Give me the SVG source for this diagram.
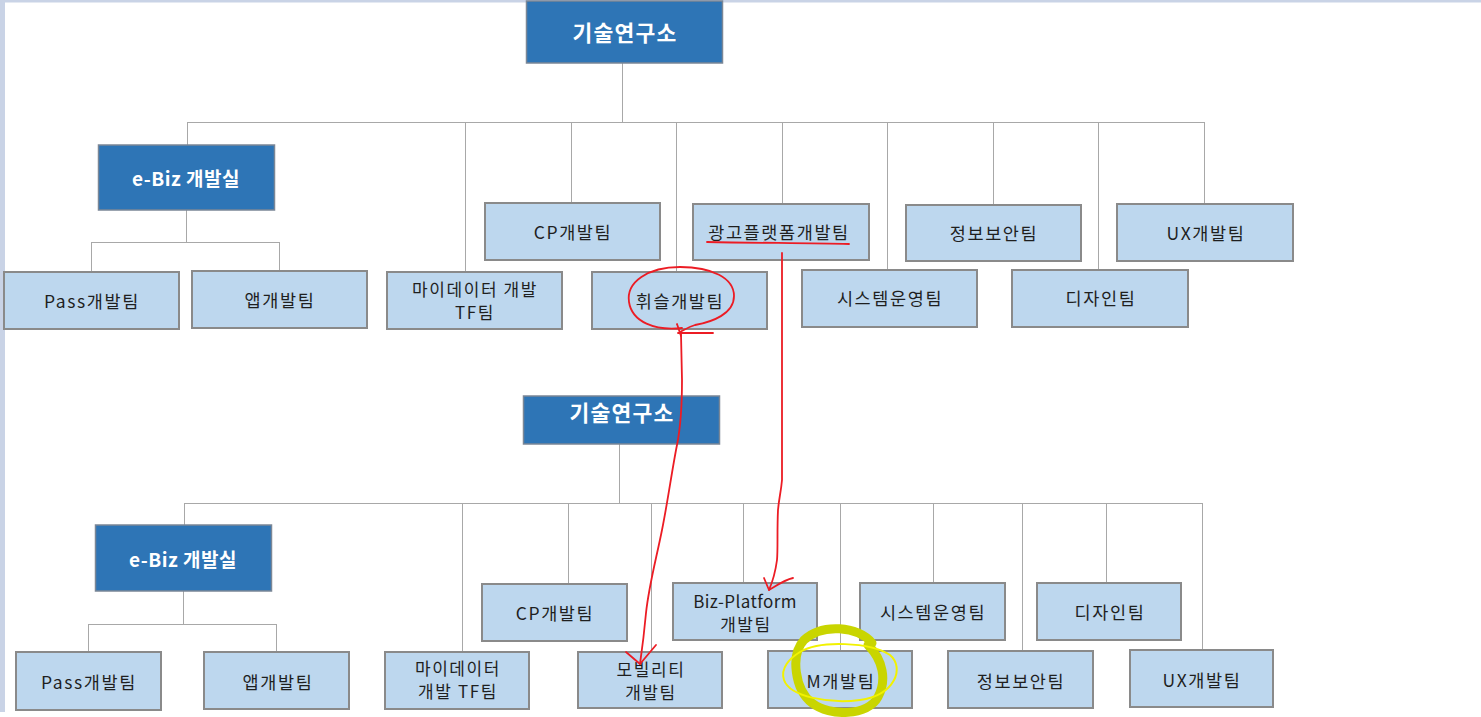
<svg xmlns="http://www.w3.org/2000/svg" width="1481" height="717" viewBox="0 0 1481 717">
<style>
.bg{fill:#ffffff}
.band{fill:#c9d3e6}
.dark rect{fill:#2e75b6;stroke:#7b8796;stroke-width:1.5}
.dark text{fill:#ffffff;font-family:"Noto Sans CJK KR","Noto Sans",sans-serif;font-weight:bold;text-anchor:middle;dominant-baseline:central}
.leaf rect{fill:#bdd7ee;stroke:#8a8a8a;stroke-width:2}
.leaf text{fill:#1f1f1f;font-family:"Noto Sans CJK KR","Noto Sans",sans-serif;font-size:17.5px;letter-spacing:1.6px;text-anchor:middle;dominant-baseline:central}
.leaf text.two{font-size:17px}
.leaf text.lat{letter-spacing:0.4px}
.conn line{stroke:#a8a8a8;stroke-width:1;fill:none}
.red{stroke:#ec1c24;stroke-width:1.8;fill:none;stroke-linecap:round;stroke-linejoin:round}
.hl{stroke:#c9d500;stroke-width:9;fill:none;stroke-linecap:round}
.yl{stroke:#f2f200;stroke-width:2;fill:none}
</style>
<rect class="bg" x="0" y="0" width="1481" height="717"/>
<rect class="band" x="0" y="0" width="1481" height="2.5"/>
<rect class="band" x="0" y="0" width="5" height="712"/>

<g id="connectors" class="conn">
  <line x1="622.5" y1="63" x2="622.5" y2="122.5"/>
  <line x1="187" y1="122.5" x2="1204.5" y2="122.5"/>
  <line x1="187.5" y1="122" x2="187.5" y2="145"/>
  <line x1="186.5" y1="210" x2="186.5" y2="242.5"/>
  <line x1="91.5" y1="242.5" x2="279.5" y2="242.5"/>
  <line x1="91.5" y1="242" x2="91.5" y2="272"/>
  <line x1="279.5" y1="242" x2="279.5" y2="271"/>
  <line x1="465.5" y1="122" x2="465.5" y2="271"/>
  <line x1="571.5" y1="122" x2="571.5" y2="203"/>
  <line x1="676.5" y1="122" x2="676.5" y2="272"/>
  <line x1="782.5" y1="122" x2="782.5" y2="204"/>
  <line x1="887.5" y1="122" x2="887.5" y2="270"/>
  <line x1="993.5" y1="122" x2="993.5" y2="205"/>
  <line x1="1098.5" y1="122" x2="1098.5" y2="270"/>
  <line x1="1204.5" y1="122" x2="1204.5" y2="204"/>
  <line x1="619.5" y1="444" x2="619.5" y2="503.5"/>
  <line x1="184" y1="503.5" x2="1202.5" y2="503.5"/>
  <line x1="184.5" y1="503" x2="184.5" y2="525"/>
  <line x1="183.5" y1="591" x2="183.5" y2="624.5"/>
  <line x1="88.5" y1="624.5" x2="276.5" y2="624.5"/>
  <line x1="88.5" y1="624" x2="88.5" y2="652"/>
  <line x1="276.5" y1="624" x2="276.5" y2="652"/>
  <line x1="462.5" y1="503" x2="462.5" y2="652"/>
  <line x1="568.5" y1="503" x2="568.5" y2="584"/>
  <line x1="651.5" y1="503" x2="651.5" y2="652"/>
  <line x1="743.5" y1="503" x2="743.5" y2="583"/>
  <line x1="840.5" y1="503" x2="840.5" y2="651"/>
  <line x1="933.5" y1="503" x2="933.5" y2="583"/>
  <line x1="1022.5" y1="503" x2="1022.5" y2="651"/>
  <line x1="1106.5" y1="503" x2="1106.5" y2="583"/>
  <line x1="1202.5" y1="503" x2="1202.5" y2="650"/>
</g>

<g id="t-lab" class="dark"><rect x="526.5" y="1" width="196" height="62"/><text x="625" y="31" font-size="21.5" letter-spacing="1.2">기술연구소</text></g>
<g id="t-ebiz" class="dark"><rect x="98.5" y="145" width="176" height="65"/><text x="186" y="177" font-size="19" letter-spacing="0.5">e-Biz 개발실</text></g>
<g id="t-pass" class="leaf"><rect x="4" y="272" width="175" height="57"/><text x="92" y="300">Pass개발팀</text></g>
<g id="t-app" class="leaf"><rect x="192" y="271" width="175" height="57"/><text x="280" y="299">앱개발팀</text></g>
<g id="t-mydata" class="leaf"><rect x="387" y="272" width="175" height="57"/><text class="two" x="475" y="288">마이데이터 개발</text><text class="two" x="475" y="311">TF팀</text></g>
<g id="t-cp" class="leaf"><rect x="485" y="203" width="175" height="57"/><text x="573" y="231">CP개발팀</text></g>
<g id="t-whistle" class="leaf"><rect x="592" y="272" width="175" height="57"/><text x="680" y="300">휘슬개발팀</text></g>
<g id="t-ad" class="leaf"><rect x="693" y="204" width="176" height="56"/><text x="779" y="231">광고플랫폼개발팀</text></g>
<g id="t-sys" class="leaf"><rect x="802" y="270" width="175" height="57"/><text x="890" y="297">시스템운영팀</text></g>
<g id="t-sec" class="leaf"><rect x="906" y="205" width="175" height="56"/><text x="994" y="232">정보보안팀</text></g>
<g id="t-design" class="leaf"><rect x="1012" y="270" width="176" height="57"/><text x="1101" y="297">디자인팀</text></g>
<g id="t-ux" class="leaf"><rect x="1117" y="204" width="176" height="57"/><text x="1206" y="232">UX개발팀</text></g>

<g id="b-lab" class="dark"><rect x="523.5" y="396" width="196" height="48"/><text x="622" y="411" font-size="21.5" letter-spacing="1.2">기술연구소</text></g>
<g id="b-ebiz" class="dark"><rect x="95.5" y="525" width="176" height="66"/><text x="183" y="558" font-size="19" letter-spacing="0.5">e-Biz 개발실</text></g>
<g id="b-pass" class="leaf"><rect x="16" y="652" width="145" height="58"/><text x="89" y="681">Pass개발팀</text></g>
<g id="b-app" class="leaf"><rect x="204" y="652" width="145" height="57"/><text x="278" y="681">앱개발팀</text></g>
<g id="b-mydata" class="leaf"><rect x="385" y="652" width="144" height="57"/><text class="two" x="458" y="667">마이데이터</text><text class="two" x="458" y="690">개발 TF팀</text></g>
<g id="b-cp" class="leaf"><rect x="482" y="584" width="145" height="57"/><text x="555" y="612">CP개발팀</text></g>
<g id="b-mobility" class="leaf"><rect x="578" y="652" width="144" height="56"/><text class="two" x="651" y="668">모빌리티</text><text class="two" x="651" y="691">개발팀</text></g>
<g id="b-bizplatform" class="leaf"><rect x="673" y="583" width="144" height="57"/><text class="two lat" x="745" y="600">Biz-Platform</text><text class="two" x="746" y="623">개발팀</text></g>
<g id="b-m" class="leaf"><rect x="768" y="651" width="144" height="57"/><text x="841" y="680">M개발팀</text></g>
<g id="b-sys" class="leaf"><rect x="860" y="583" width="145" height="57"/><text x="933" y="611">시스템운영팀</text></g>
<g id="b-sec" class="leaf"><rect x="948" y="651" width="145" height="57"/><text x="1021" y="680">정보보안팀</text></g>
<g id="b-design" class="leaf"><rect x="1037" y="583" width="144" height="57"/><text x="1110" y="611">디자인팀</text></g>
<g id="b-ux" class="leaf"><rect x="1130" y="650" width="143" height="57"/><text x="1202" y="679">UX개발팀</text></g>

<g id="annotations">
  <path class="red" d="M707,242 C760,243 810,243 849,244"/>
  <path class="red" d="M682,328 C655,331 632,322 629,302 C626,282 648,267 680,267 C712,267 734,278 734,296 C734,314 712,322 695,325 C688,327 684,330 680,332"/>
  <path class="red" d="M677,324 L681,336"/>
  <path class="red" d="M678,333 L713,333"/>
  <path class="red" d="M681,334 L682,380 C682,400 681,425 677,445 C672,470 668,500 662,530 C656,560 649,585 646,613 C644,635 642,650 640,664"/>
  <path class="red" d="M626,652 L640,664 L656,645"/>
  <path class="red" d="M782,253 L782,480 C781,492 779,498 778,510 C777,530 778,550 777,560 C775,575 772,583 769,590"/>
  <path class="red" d="M764,578 L769,590 C776,586 784,580 793,578"/>
  <path class="hl" d="M872,643 C858,626 822,623 804,640 C790,655 795,690 812,703 C830,717 868,716 878,697 C887,680 883,660 868,645"/>
  <path class="yl" d="M800,652 C820,640 870,642 890,655 C905,668 895,695 860,700 C830,704 790,697 784,680 C780,668 790,658 800,652"/>
</g>
</svg>
